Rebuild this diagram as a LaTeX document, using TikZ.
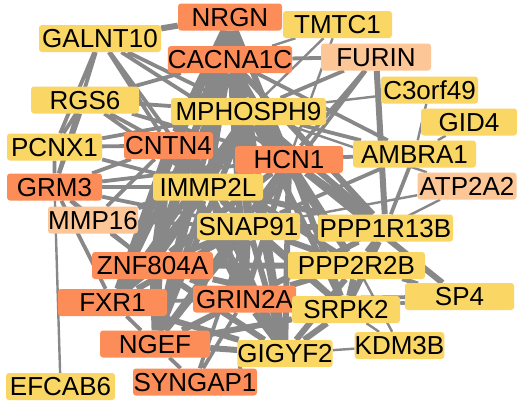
\documentclass[tikz,border=0pt]{standalone}
\usepackage{fontspec}
\setmainfont{Liberation Sans}
\usepackage{xcolor}
\usetikzlibrary{backgrounds}

\definecolor{riskcoral}{RGB}{252,141,89}
\definecolor{midpeach}{RGB}{253,198,150}
\definecolor{lowyellow}{RGB}{250,214,100}
\definecolor{linkgray}{RGB}{136,136,136}

\begin{document}
\begin{tikzpicture}[
    x=1pt, y=-1pt,
    gene/.style={rectangle, rounded corners=3pt, inner sep=0pt, minimum height=27pt, text height=18.7pt, text depth=0pt, align=center, font=\fontsize{26}{26}\selectfont},
    risk/.style={gene, fill=riskcoral},
    mid/.style={gene, fill=midpeach},
    low/.style={gene, fill=lowyellow},
    link/.style={draw=linkgray, line width=2.4pt},
    midlink/.style={draw=linkgray, line width=3.8pt},
    heavylink/.style={draw=linkgray, line width=6pt}
]
    \useasboundingbox (0,0) rectangle (517,405);

    % genes, top to bottom
    \node [risk, minimum width=104pt] (nrgn) at (230,17) {NRGN};
    \node [low, minimum width=109pt] (tmtc) at (337.5,24.5) {TMTC1};
    \node [low, minimum width=122pt] (galnt) at (100,38.5) {GALNT10};
    \node [risk, minimum width=124pt] (cacna) at (230,59.5) {CACNA1C};
    \node [mid, minimum width=110pt] (furin) at (376,57) {FURIN};
    \node [low, minimum width=97pt] (c3orf) at (429.5,90) {C3orf49};
    \node [low, minimum width=108pt] (rgs) at (85,100) {RGS6};
    \node [low, minimum width=155pt] (mphos) at (248.5,111.5) {MPHOSPH9};
    \node [low, minimum width=96pt] (gid) at (469,122) {GID4};
    \node [low, minimum width=95pt] (pcnx) at (54.5,147) {PCNX1};
    \node [risk, minimum width=89pt] (cntn) at (168.5,145.5) {CNTN4};
    \node [risk, minimum width=108pt] (hcn) at (289,159.5) {HCN1};
    \node [low, minimum width=123pt] (ambra) at (414.5,154) {AMBRA1};
    \node [risk, minimum width=95pt] (grm) at (54.5,187) {GRM3};
    \node [low, minimum width=110pt] (immp) at (208,187) {IMMP2L};
    \node [mid, minimum width=99pt] (atp) at (467,186) {ATP2A2};
    \node [mid, minimum width=90pt] (mmp) at (93,220) {MMP16};
    \node [low, minimum width=103pt] (snap) at (248.5,226.5) {SNAP91};
    \node [low, minimum width=135pt] (pppa) at (385.5,228) {PPP1R13B};
    \node [risk, minimum width=121pt] (znf) at (152.5,265.5) {ZNF804A};
    \node [low, minimum width=137pt] (pppb) at (356.5,265.5) {PPP2R2B};
    \node [risk, minimum width=109pt] (fxr) at (112.5,302.5) {FXR1};
    \node [risk, minimum width=103pt] (grin) at (244.5,299) {GRIN2A};
    \node [low, minimum width=109pt] (sp) at (459.5,296.5) {SP4};
    \node [low, minimum width=108pt] (srpk) at (346,309.5) {SRPK2};
    \node [risk, minimum width=110pt] (ngef) at (155,344) {NGEF};
    \node [low, minimum width=94pt] (gigyf) at (285,353.5) {GIGYF2};
    \node [low, minimum width=89pt] (kdm) at (399.5,345.5) {KDM3B};
    \node [low, minimum width=109pt] (efcab) at (60.5,386.5) {EFCAB6};
    \node [risk, minimum width=124pt] (syngap) at (195,382) {SYNGAP1};

    \begin{scope}[on background layer]
        \fill [white] (0,0) rectangle (517,405);

        % dense core
        \draw [heavylink] (nrgn) -- (cacna) (nrgn) -- (mphos) (nrgn) -- (hcn) (nrgn) -- (cntn)
            (nrgn) -- (immp) (nrgn) -- (snap) (nrgn) -- (grin) (nrgn) -- (znf) (nrgn) -- (galnt)
            (nrgn) -- (ngef) (nrgn) -- (fxr);
        \draw [heavylink] (cacna) -- (mphos) (cacna) -- (hcn) (cacna) -- (cntn) (cacna) -- (immp)
            (cacna) -- (snap) (cacna) -- (grin) (cacna) -- (znf) (cacna) -- (ngef) (cacna) -- (pppa)
            (cacna) -- (fxr) (cacna) -- (gigyf);
        \draw [heavylink] (mphos) -- (hcn) (mphos) -- (cntn) (mphos) -- (immp) (mphos) -- (snap)
            (mphos) -- (pppa) (mphos) -- (pppb) (mphos) -- (grin) (mphos) -- (znf) (mphos) -- (srpk)
            (mphos) -- (ngef) (mphos) -- (gigyf) (mphos) -- (fxr);
        \draw [heavylink] (cntn) -- (hcn) (cntn) -- (immp) (cntn) -- (snap) (cntn) -- (znf)
            (cntn) -- (grin) (cntn) -- (ngef) (cntn) -- (fxr) (cntn) -- (gigyf) (cntn) -- (pppb);
        \draw [heavylink] (hcn) -- (immp) (hcn) -- (snap) (hcn) -- (pppa) (hcn) -- (pppb)
            (hcn) -- (grin) (hcn) -- (srpk) (hcn) -- (gigyf) (hcn) -- (sp) (hcn) -- (znf) (hcn) -- (ngef);
        \draw [heavylink] (immp) -- (snap) (immp) -- (znf) (immp) -- (grin) (immp) -- (ngef)
            (immp) -- (fxr) (immp) -- (mmp) (immp) -- (pppa) (immp) -- (gigyf) (immp) -- (srpk);
        \draw [heavylink] (snap) -- (pppa) (snap) -- (pppb) (snap) -- (grin) (snap) -- (srpk)
            (snap) -- (gigyf) (snap) -- (znf) (snap) -- (ngef) (snap) -- (fxr);
        \draw [heavylink] (pppa) -- (pppb) (pppa) -- (grin) (pppa) -- (srpk) (pppa) -- (furin)
            (pppb) -- (grin) (pppb) -- (srpk) (pppb) -- (gigyf);
        \draw [heavylink] (znf) -- (grin) (znf) -- (ngef) (znf) -- (fxr) (znf) -- (gigyf)
            (znf) -- (srpk) (znf) -- (pppb)
            (grin) -- (srpk) (grin) -- (gigyf) (grin) -- (ngef) (srpk) -- (gigyf) (ngef) -- (gigyf)
            (ngef) -- (srpk) (fxr) -- (gigyf);

        % outer ring
        \draw [midlink] (galnt) -- (mphos) (galnt) -- (cntn) (galnt) -- (pcnx) (galnt) -- (grm)
            (galnt) -- (immp) (galnt) -- (hcn);
        \draw [midlink] (rgs) -- (mphos) (rgs) -- (cacna) (rgs) -- (cntn) (rgs) -- (hcn)
            (rgs) -- (pcnx) (rgs) -- (grm) (rgs) -- (immp);
        \draw [midlink] (pcnx) -- (grm) (pcnx) -- (cntn) (pcnx) -- (immp) (pcnx) -- (mphos);
        \draw [midlink] (grm) -- (mmp) (grm) -- (znf) (grm) -- (fxr) (grm) -- (snap) (grm) -- (hcn)
            (grm) -- (immp) (grm) -- (cntn);
        \draw [midlink] (mmp) -- (znf) (mmp) -- (snap) (mmp) -- (hcn) (mmp) -- (cntn);
        \draw [midlink] (fxr) -- (ngef) (fxr) -- (grin) (fxr) -- (hcn);
        \draw [midlink] (furin) -- (hcn) (furin) -- (cacna) (furin) -- (snap) (furin) -- (mphos);
        \draw [midlink] (ambra) -- (hcn) (ambra) -- (mphos) (ambra) -- (snap) (ambra) -- (pppa)
            (ambra) -- (cacna);
        \draw [midlink] (sp) -- (pppb) (sp) -- (srpk) (sp) -- (grin);
        \draw [midlink] (syngap) -- (ngef) (syngap) -- (gigyf) (syngap) -- (grin) (syngap) -- (snap);

        % thin links
        \draw [link] (tmtc) -- (mphos) (tmtc) -- (cacna) (tmtc) -- (hcn);
        \draw [link] (c3orf) -- (mphos) (c3orf) -- (ambra) (gid) -- (ambra);
        \draw [link] (atp) -- (snap) (atp) -- (grin) (atp) -- (mphos);
        \draw [link] (efcab) -- (grm);
        \draw [link] (kdm) -- (gigyf) (kdm) -- (srpk) (kdm) -- (pppb) (sp) -- (snap);
    \end{scope}
\end{tikzpicture}
\end{document}
